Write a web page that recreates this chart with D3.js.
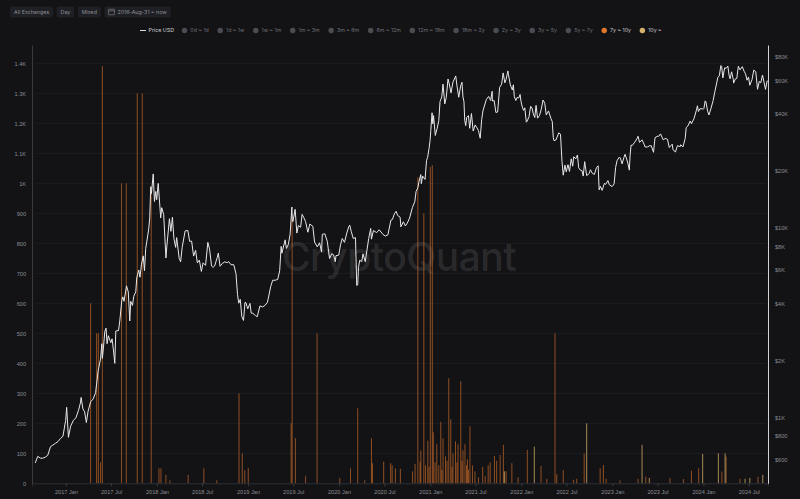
<!DOCTYPE html>
<html>
<head>
<meta charset="utf-8">
<script src="https://cdn.jsdelivr.net/npm/d3@7"></script>
<style>
  html, body { margin: 0; padding: 0; background: #131316; }
  svg { display: block; font-family: Inter, "Noto Sans", sans-serif; }
</style>
</head>
<body>
<div id="chart"></div>
<script>
// toolbar + legend labels
var toolbarButtons = ["All Exchanges", "Day", "Mixed", "2016-Aug-31 ~ now"];
var legendBands = ["0d ~ 1d", "1d ~ 1w", "1w ~ 1m", "1m ~ 3m", "3m ~ 6m", "6m ~ 12m",
  "12m ~ 18m", "18m ~ 2y", "2y ~ 3y", "3y ~ 5y", "5y ~ 7y", "7y ~ 10y", "10y ~"];
var activeBands = ["7y ~ 10y", "10y ~"];

// axis ticks
var xTickDates = ["2017-01-01", "2017-07-01", "2018-01-01", "2018-07-01", "2019-01-01", "2019-07-01",
  "2020-01-01", "2020-07-01", "2021-01-01", "2021-07-01", "2022-01-01", "2022-07-01",
  "2023-01-01", "2023-07-01", "2024-01-01", "2024-07-01"];
var leftTicks = [0, 100, 200, 300, 400, 500, 600, 700, 800, 900, 1000, 1100, 1200, 1300, 1400];
var rightTicks = [600, 800, 1000, 2000, 4000, 6000, 8000, 10000, 20000, 40000, 60000, 80000];

// BTC price (USD)
var priceSeries = [
  ["2016-08-31",575],["2016-09-10",623],["2016-09-20",610],["2016-09-30",609],["2016-10-10",617],["2016-10-20",630],
  ["2016-10-31",700],["2016-11-10",715],["2016-11-20",730],["2016-11-30",745],["2016-12-10",774],["2016-12-20",795],["2016-12-31",964],
  ["2017-01-04",1130],["2017-01-11",785],["2017-01-20",900],["2017-01-31",965],["2017-02-10",995],["2017-02-20",1085],["2017-02-28",1190],
  ["2017-03-03",1275],["2017-03-10",1110],["2017-03-17",1070],["2017-03-24",940],["2017-03-31",1080],["2017-04-10",1210],["2017-04-20",1250],
  ["2017-04-30",1350],["2017-05-10",1755],["2017-05-20",2040],["2017-05-25",2450],["2017-05-27",2050],["2017-05-31",2300],["2017-06-06",2850],
  ["2017-06-11",2960],["2017-06-15",2450],["2017-06-20",2700],["2017-06-30",2480],["2017-07-05",2600],["2017-07-10",2300],["2017-07-16",1930],
  ["2017-07-20",2860],["2017-07-31",2875],["2017-08-05",3230],["2017-08-13",4150],["2017-08-17",4330],["2017-08-22",4100],["2017-09-01",4950],
  ["2017-09-08",4600],["2017-09-14",3230],["2017-09-18",4100],["2017-09-25",3900],["2017-09-30",4360],["2017-10-08",4600],["2017-10-12",5450],
  ["2017-10-20",6000],["2017-10-25",5500],["2017-10-31",6450],["2017-11-07",7130],["2017-11-12",5950],["2017-11-17",7800],["2017-11-26",9300],
  ["2017-11-29",9900],["2017-12-03",11300],["2017-12-07",16500],["2017-12-10",15200],["2017-12-17",19300],["2017-12-22",13800],["2017-12-27",15600],
  ["2017-12-31",14100],
  ["2018-01-06",17200],["2018-01-10",14600],["2018-01-16",11300],["2018-01-20",12800],["2018-01-28",11800],["2018-02-02",8800],["2018-02-06",6950],
  ["2018-02-10",8100],["2018-02-20",11200],["2018-02-26",9600],["2018-03-04",11400],["2018-03-10",8800],["2018-03-17",7900],["2018-03-21",8900],
  ["2018-03-31",6930],["2018-04-06",6630],["2018-04-12",7900],["2018-04-24",9650],["2018-05-05",9700],["2018-05-12",8500],["2018-05-20",8530],
  ["2018-05-28",7110],["2018-06-05",7620],["2018-06-12",6550],["2018-06-20",6770],["2018-06-28",5900],["2018-07-05",6550],["2018-07-15",6350],
  ["2018-07-24",8400],["2018-07-31",7730],["2018-08-08",6300],["2018-08-14",6200],["2018-08-20",6300],["2018-08-31",7000],["2018-09-04",7370],
  ["2018-09-11",6280],["2018-09-20",6500],["2018-09-30",6630],["2018-10-10",6560],["2018-10-15",6650],["2018-10-25",6400],["2018-11-05",6400],
  ["2018-11-14",5730],["2018-11-20",4450],["2018-11-25",4010],["2018-12-01",4200],["2018-12-07",3420],["2018-12-14",3250],["2018-12-20",4050],
  ["2018-12-24",4030],["2018-12-31",3740],
  ["2019-01-09",4000],["2019-01-14",3550],["2019-01-20",3550],["2019-01-31",3450],["2019-02-07",3400],["2019-02-18",3880],["2019-02-28",3830],
  ["2019-03-10",3900],["2019-03-20",4050],["2019-04-02",4900],["2019-04-10",5300],["2019-04-20",5300],["2019-04-30",5350],["2019-05-08",5940],
  ["2019-05-14",8000],["2019-05-17",7360],["2019-05-30",8660],["2019-06-04",7800],["2019-06-12",8200],["2019-06-19",9300],["2019-06-26",12900],
  ["2019-06-27",11200],["2019-06-30",10800],["2019-07-09",12550],["2019-07-16",9400],["2019-07-22",10300],["2019-07-31",10100],["2019-08-06",11800],
  ["2019-08-12",11400],["2019-08-20",10800],["2019-08-29",9500],["2019-09-06",10500],["2019-09-18",10200],["2019-09-25",8430],["2019-10-06",7950],
  ["2019-10-15",8360],["2019-10-23",7470],["2019-10-26",9260],["2019-11-05",9320],["2019-11-15",8500],["2019-11-24",6900],["2019-12-03",7320],
  ["2019-12-10",7220],["2019-12-17",6640],["2019-12-20",7150],["2019-12-31",7190],
  ["2020-01-07",8160],["2020-01-14",8800],["2020-01-23",8400],["2020-02-01",9390],["2020-02-09",10150],["2020-02-13",10350],["2020-02-19",9600],
  ["2020-02-27",8800],["2020-03-07",8900],["2020-03-12",4970],["2020-03-16",5010],["2020-03-19",6190],["2020-03-24",6760],["2020-04-01",6640],
  ["2020-04-06",7300],["2020-04-15",6640],["2020-04-29",8800],["2020-05-07",9950],["2020-05-10",8730],["2020-05-18",9700],["2020-05-31",9450],
  ["2020-06-02",9520],["2020-06-10",9790],["2020-06-25",9250],["2020-07-05",9070],["2020-07-15",9200],["2020-07-27",11000],["2020-08-02",11090],
  ["2020-08-10",11880],["2020-08-17",12250],["2020-08-23",11650],["2020-09-02",11400],["2020-09-05",10150],["2020-09-15",10790],["2020-09-23",10250],
  ["2020-10-01",10620],["2020-10-10",11300],["2020-10-21",12800],["2020-10-31",13800],["2020-11-05",15600],["2020-11-12",16300],["2020-11-17",17700],
  ["2020-11-24",19150],["2020-11-26",17150],["2020-12-01",18800],["2020-12-11",18050],["2020-12-17",22800],["2020-12-21",23500],["2020-12-27",26300],
  ["2020-12-31",28990],
  ["2021-01-03",32800],["2021-01-08",40600],["2021-01-11",35500],["2021-01-14",39200],["2021-01-21",30800],["2021-01-28",33400],["2021-02-04",36900],
  ["2021-02-09",46500],["2021-02-16",49200],["2021-02-21",57500],["2021-02-28",45200],["2021-03-06",48900],["2021-03-13",61200],["2021-03-18",57700],
  ["2021-03-25",51700],["2021-04-02",59000],["2021-04-13",63500],["2021-04-18",56200],["2021-04-25",49000],["2021-05-03",56600],["2021-05-08",58800],
  ["2021-05-12",49200],["2021-05-16",46400],["2021-05-19",37000],["2021-05-23",34700],["2021-05-27",38400],["2021-06-03",39200],["2021-06-08",33600],
  ["2021-06-15",40200],["2021-06-22",32500],["2021-06-30",35000],["2021-07-07",33800],["2021-07-13",32700],["2021-07-20",29800],["2021-07-26",37300],
  ["2021-07-31",41500],["2021-08-07",44600],["2021-08-14",47800],["2021-08-23",49500],["2021-08-31",47100],["2021-09-06",52700],["2021-09-07",46800],
  ["2021-09-14",47100],["2021-09-21",40700],["2021-09-28",41000],["2021-10-06",55300],["2021-10-14",57400],["2021-10-20",65900],["2021-10-27",58400],
  ["2021-11-01",61000],["2021-11-08",67500],["2021-11-10",64900],["2021-11-18",56900],["2021-11-26",53500],["2021-11-30",57000],["2021-12-04",49300],
  ["2021-12-10",47100],["2021-12-15",48900],["2021-12-22",48600],["2021-12-27",50700],["2021-12-31",46300],
  ["2022-01-05",43500],["2022-01-10",41800],["2022-01-15",43100],["2022-01-21",36200],["2022-01-24",36600],["2022-02-01",38700],["2022-02-07",43800],
  ["2022-02-10",43600],["2022-02-14",42500],["2022-02-18",40000],["2022-02-24",38300],["2022-03-01",44400],["2022-03-07",38000],["2022-03-15",39300],
  ["2022-03-22",42400],["2022-03-29",47400],["2022-04-05",45500],["2022-04-11",39500],["2022-04-20",41500],["2022-04-30",37700],["2022-05-05",36500],
  ["2022-05-09",30100],["2022-05-12",28900],["2022-05-20",29200],["2022-05-31",31800],["2022-06-07",31300],["2022-06-13",22500],["2022-06-18",19000],
  ["2022-06-25",21500],["2022-06-30",19800],["2022-07-07",21600],["2022-07-13",19900],["2022-07-20",23200],["2022-07-26",21200],["2022-07-30",23800],
  ["2022-08-07",23200],["2022-08-14",24300],["2022-08-19",20800],["2022-08-26",20200],["2022-09-01",20100],["2022-09-06",18800],["2022-09-12",22400],
  ["2022-09-20",18900],["2022-09-30",19400],["2022-10-05",20300],["2022-10-13",19400],["2022-10-21",19200],["2022-10-29",20800],["2022-11-05",21300],
  ["2022-11-09",15900],["2022-11-14",16600],["2022-11-21",15800],["2022-11-30",17200],["2022-12-05",17000],["2022-12-14",17800],["2022-12-20",16900],
  ["2022-12-31",16550],
  ["2023-01-08",17100],["2023-01-14",20900],["2023-01-20",22700],["2023-01-29",23700],["2023-02-02",23400],["2023-02-09",21800],["2023-02-16",23500],
  ["2023-02-21",24500],["2023-03-03",22300],["2023-03-10",20200],["2023-03-13",24100],["2023-03-17",27400],["2023-03-22",27300],["2023-04-01",28400],
  ["2023-04-10",29700],["2023-04-14",30500],["2023-04-20",28300],["2023-04-30",29200],["2023-05-08",27700],["2023-05-12",26800],["2023-05-22",26800],
  ["2023-05-31",27200],["2023-06-06",27200],["2023-06-15",25100],["2023-06-21",30000],["2023-06-30",30500],["2023-07-06",30500],["2023-07-13",31400],
  ["2023-07-24",29200],["2023-08-01",29700],["2023-08-10",29400],["2023-08-17",26600],["2023-08-29",27700],["2023-09-01",25900],["2023-09-11",25200],
  ["2023-09-19",27200],["2023-09-30",26900],["2023-10-02",27500],["2023-10-11",26800],["2023-10-20",29700],["2023-10-24",33900],["2023-10-31",34600],
  ["2023-11-09",36700],["2023-11-14",35500],["2023-11-24",37700],["2023-12-04",41900],["2023-12-08",44200],["2023-12-12",41200],["2023-12-18",42600],
  ["2023-12-28",42600],["2023-12-31",42300],
  ["2024-01-03",42800],["2024-01-08",46900],["2024-01-11",46400],["2024-01-18",41300],["2024-01-23",39500],["2024-01-31",42600],["2024-02-09",47100],
  ["2024-02-15",51800],["2024-02-28",62400],["2024-03-05",63700],["2024-03-11",72100],["2024-03-14",71400],["2024-03-19",62000],["2024-03-26",70000],
  ["2024-04-01",69700],["2024-04-08",71600],["2024-04-13",64000],["2024-04-17",61300],["2024-04-23",66800],["2024-04-30",60700],["2024-05-01",58200],
  ["2024-05-08",61200],["2024-05-14",61600],["2024-05-20",71400],["2024-05-27",68400],["2024-06-05",71100],["2024-06-12",67300],["2024-06-18",65100],
  ["2024-06-24",60300],["2024-06-30",62700],["2024-07-05",56700],["2024-07-14",60800],["2024-07-21",68200],["2024-07-29",66800],["2024-08-05",54000],
  ["2024-08-12",59400],["2024-08-18",58400],["2024-08-25",64200],["2024-08-31",58900],["2024-09-06",53900],["2024-09-13",60000]
];

// 7y ~ 10y band spikes
var band7to10 = [
  ["2017-04-10",600],["2017-05-04",500],["2017-05-11",500],["2017-05-20",70],["2017-05-27",1390],["2017-08-12",1000],["2017-08-31",1000],
  ["2017-10-14",1300],["2017-11-03",1300],["2017-12-09",990],["2018-01-09",50],["2018-01-17",50],["2018-02-06",28],["2018-02-22",10],
  ["2018-05-06",28],["2018-07-08",50],["2018-08-29",10],["2018-11-26",300],["2018-12-09",100],["2018-12-19",44],["2019-01-02",51],
  ["2019-06-23",200],["2019-06-27",900],["2019-07-10",151],["2019-08-20",25],["2019-10-05",500],["2020-01-04",18],["2020-02-16",50],
  ["2020-03-16",250],["2020-04-13",10],["2020-05-10",150],["2020-05-14",67],["2020-06-28",72],["2020-07-26",67],["2020-08-01",60],
  ["2020-08-14",50],["2020-09-03",48],["2020-10-22",40],["2020-11-01",65],["2020-11-12",1020],["2020-11-21",72],["2020-11-24",110],
  ["2020-12-06",900],["2020-12-13",60],["2020-12-22",142],["2020-12-27",55],["2021-01-01",1055],["2021-01-09",1060],["2021-01-13",170],
  ["2021-01-20",70],["2021-01-27",130],["2021-02-04",60],["2021-02-12",205],["2021-02-16",45],["2021-02-21",150],["2021-03-03",90],
  ["2021-03-09",75],["2021-03-16",350],["2021-03-24",213],["2021-03-29",55],["2021-04-02",100],["2021-04-12",140],["2021-04-18",70],
  ["2021-04-22",130],["2021-05-03",340],["2021-05-08",75],["2021-05-12",110],["2021-05-20",130],["2021-05-26",60],["2021-05-30",80],
  ["2021-06-03",45],["2021-06-09",190],["2021-06-19",60],["2021-06-29",40],["2021-07-13",20],["2021-07-30",55],["2021-08-09",25],
  ["2021-08-21",60],["2021-08-29",70],["2021-09-15",91],["2021-09-24",75],["2021-10-08",94],["2021-10-21",128],["2021-11-01",40],
  ["2021-11-24",67],["2021-12-19",20],["2022-01-25",111],["2022-03-21",58],["2022-04-13",15],["2022-05-16",500],["2022-05-23",30],
  ["2022-06-18",44],["2022-07-29",12],["2022-08-11",15],["2022-09-10",100],["2022-11-13",50],["2022-11-26",61],["2022-12-07",15],
  ["2023-02-01",10],["2023-04-14",15],["2023-05-15",22],["2023-08-20",18],["2023-10-13",14],["2023-11-14",42],["2023-12-13",50],
  ["2024-03-15",39],["2024-04-01",89],["2024-05-27",15],["2024-08-07",22]
];

// 10y ~ band spikes
var band10plus = [
  ["2021-10-25",40],["2022-02-22",122],["2022-09-20",200],["2023-04-30",128],["2023-05-29",18],["2023-12-29",98],
  ["2024-03-01",100],["2024-03-28",100],["2024-06-16",15],["2024-07-05",18],["2024-08-26",28]
];

var width = 800, height = 499;
var parse = d3.timeParse("%Y-%m-%d");

var svg = d3.select("#chart").append("svg")
  .attr("width", width)
  .attr("height", height)
  .style("background", "#131316");

//scales
var x = d3.scaleTime()
  .domain([parse("2016-08-18"), parse("2024-09-16")])
  .range([32, 768]);
var yL = d3.scaleLinear().domain([0, 1461]).range([483.3, 45]);
var yR = d3.scaleLog().domain([449, 92500]).range([483.3, 45]);

//toolbar
var bx = 10;
toolbarButtons.forEach(function(label, i) {
  var g = svg.append("g").attr("transform", "translate(" + bx + ",6.5)");
  var pad = i == 3 ? 13 : 4;
  var t = g.append("text")
    .attr("x", pad).attr("y", 7.3)
    .attr("fill", "#8d8e93")
    .style("font-size", "5.3px")
    .text(label);
  var w = t.node().getComputedTextLength() + pad + 4;
  g.insert("rect", "text")
    .attr("width", w).attr("height", 11).attr("rx", 2)
    .attr("fill", "#1f2025");
  if(i == 3) {
    //calendar icon
    g.append("rect").attr("x", 4).attr("y", 2.7).attr("width", 6).attr("height", 5.6).attr("rx", 0.8)
      .attr("fill", "none").attr("stroke", "#8d8e93").attr("stroke-width", 0.6);
    g.append("line").attr("x1", 4).attr("x2", 10).attr("y1", 4.3).attr("y2", 4.3)
      .attr("stroke", "#8d8e93").attr("stroke-width", 0.6);
  }
  bx += w + 3.5;
});

//legend
var legend = svg.append("g").attr("transform", "translate(0,30.5)");
legend.append("line").attr("x1", 140).attr("x2", 146).attr("y1", 0).attr("y2", 0)
  .attr("stroke", "#dcdcdc").attr("stroke-width", 1);
var lt = legend.append("text").attr("x", 148.5).attr("y", 1.9)
  .attr("fill", "#d0d0d3").style("font-size", "5.3px").text("Price USD");
var lx = 148.5 + lt.node().getComputedTextLength() + 10.5;
legendBands.forEach(function(label) {
  var active = activeBands.indexOf(label) >= 0;
  var col = label == "7y ~ 10y" ? "#e2772c" : (label == "10y ~" ? "#d5b26b" : "#4b4c52");
  legend.append("circle").attr("cx", lx).attr("cy", 0).attr("r", 2.7).attr("fill", col);
  var t = legend.append("text").attr("x", lx + 5.8).attr("y", 1.9)
    .attr("fill", active ? "#c9c9cc" : "#6e6f75")
    .style("font-size", "5.3px").text(label);
  lx += 5.8 + t.node().getComputedTextLength() + 11.4;
});

//grid
svg.append("g").selectAll("line").data(leftTicks.slice(1)).enter().append("line")
  .attr("x1", 35).attr("x2", 766)
  .attr("y1", function(d) { return yL(d); })
  .attr("y2", function(d) { return yL(d); })
  .attr("stroke", "#1d1d22").attr("stroke-width", 1);

//watermark
svg.append("text")
  .attr("x", 399).attr("y", 271)
  .attr("text-anchor", "middle")
  .attr("fill", "#ffffff").attr("fill-opacity", 0.11)
  .style("font-size", "39px").style("font-weight", 500)
  .style("letter-spacing", "-0.5px")
  .text("CryptoQuant");

//bars
var barsG = svg.append("g");
function drawBars(data, color, op) {
  barsG.append("g").selectAll("rect").data(data).enter().append("rect")
    .attr("x", function(d) { return x(parse(d[0])) - 0.5; })
    .attr("width", 1)
    .attr("y", function(d) { return yL(d[1]); })
    .attr("height", function(d) { return yL(0) - yL(d[1]); })
    .attr("fill", color)
    .attr("fill-opacity", op);
}
drawBars(band7to10, "#e2772c", 0.6);
drawBars(band10plus, "#d5b26b", 0.75);

//price
var line = d3.line()
  .x(function(d) { return x(parse(d[0])); })
  .y(function(d) { return yR(d[1]); });
svg.append("path").datum(priceSeries)
  .attr("d", line)
  .attr("fill", "none")
  .attr("stroke", "#e8e8ea")
  .attr("stroke-width", 1)
  .attr("stroke-linejoin", "round");

//axes
var xAxis = d3.axisBottom(x)
  .tickValues(xTickDates.map(parse))
  .tickFormat(d3.timeFormat("%Y %b"))
  .tickSize(3).tickPadding(4);
var xg = svg.append("g").attr("transform", "translate(0,483.3)").call(xAxis);
xg.select(".domain").attr("stroke", "#2e2f34");
xg.selectAll(".tick line").attr("stroke", "#3a3b40");
xg.selectAll("text").attr("fill", "#8a8b90").style("font-size", "5.6px");

var leftAxis = d3.axisLeft(yL)
  .tickValues(leftTicks)
  .tickFormat(function(d) { return d >= 1000 ? (d / 1000) + "K" : d; })
  .tickSize(0).tickPadding(6);
var lg = svg.append("g").attr("transform", "translate(32,0)").call(leftAxis);
lg.select(".domain").attr("stroke", "#3a3b40");
lg.selectAll("text").attr("fill", "#8a8b90").style("font-size", "5.6px");

var rightAxis = d3.axisRight(yR)
  .tickValues(rightTicks)
  .tickFormat(function(d) { return "$" + (d >= 1000 ? (d / 1000) + "K" : d); })
  .tickSize(0).tickPadding(7);
var rg = svg.append("g").attr("transform", "translate(768,0)").call(rightAxis);
rg.select(".domain").attr("stroke", "#d4d4d6");
rg.selectAll("text").attr("fill", "#8a8b90").style("font-size", "5.6px");
</script>
</body>
</html>
